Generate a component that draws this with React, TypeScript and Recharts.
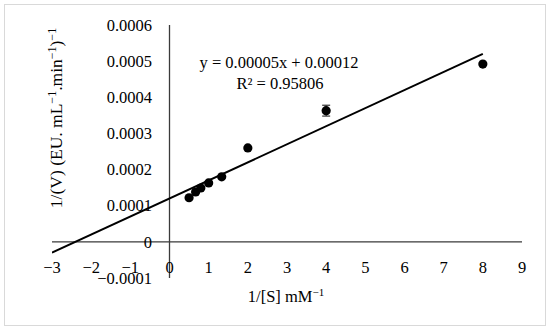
import React from 'react';
import { ComposedChart, XAxis, YAxis, Scatter, ReferenceLine, ErrorBar, Customized } from 'recharts';

const invS = [0.5, 0.667, 0.8, 1, 1.333, 2, 4, 8];
const invV = [0.000122, 0.000138, 0.000149, 0.000163, 0.00018, 0.00026, 0.000363, 0.000492];
const errV = [0, 0, 0, 0, 0, 0, 0.000015, 0];
const xTicks = [-3, -2, -1, 0, 1, 2, 3, 4, 5, 6, 7, 8, 9];
const yTicks = [-0.0001, 0, 0.0001, 0.0002, 0.0003, 0.0004, 0.0005, 0.0006];
const slope = 0.00005;
const intercept = 0.00012;
const trendX = [-3, 8];

const points = invS.map((x, i) => ({ x, y: invV[i], err: errV[i] }));
const trend = trendX.map((x) => ({ x, y: slope * x + intercept }));

const FONT = '"Liberation Serif", "DejaVu Serif", serif';
const FS = 16.5;

const fmtNum = (v: number, digits: number) => {
  if (v === 0) return '0';
  const s = Math.abs(v).toFixed(digits);
  return (v < 0 ? '\u2212' : '') + s;
};

const XTick = (props: any) => {
  const { x, y, payload } = props;
  return (
    <text x={x} y={y - 11} dy="0.35em" textAnchor="middle" fontFamily={FONT} fontSize={FS} fill="#000">
      {fmtNum(payload.value, 0)}
    </text>
  );
};

const YTick = (props: any) => {
  const { x, y, payload } = props;
  return (
    <text x={x + 100} y={y} dy="0.35em" textAnchor="end" fontFamily={FONT} fontSize={FS} fill="#000">
      {fmtNum(payload.value, 4)}
    </text>
  );
};

const Overlay = () => (
  <g fontFamily={FONT} fill="#000">
    <text x={279} y={62} dy="0.35em" textAnchor="middle" fontSize={FS}>y = 0.00005x + 0.00012</text>
    <text x={280} y={83} dy="0.35em" textAnchor="middle" fontSize={FS}>R² = 0.95806</text>
    <text x={286} y={296} dy="0.35em" textAnchor="middle" fontSize={FS}>
      1/[S] mM<tspan dy={-6} fontSize={11}>−1</tspan>
    </text>
    <g transform="translate(56,118) rotate(-90)">
      <text x={0} y={0} dy="0.35em" textAnchor="middle" fontSize={17.5}>
        1/(V) (EU. mL<tspan dy={-6} fontSize={12}>−1</tspan>
        <tspan dy={6}>.min</tspan>
        <tspan dy={-6} fontSize={12}>−1</tspan>
        <tspan dy={6}>)</tspan>
        <tspan dy={-6} fontSize={12}>−1</tspan>
      </text>
    </g>
  </g>
);

const Dot = (props: any) => {
  const { cx, cy } = props;
  return <circle cx={cx} cy={cy} r={4.6} fill="#000" />;
};

export default function App() {
  return (
    <div style={{ position: 'absolute', left: 0, top: 0, width: 550, height: 330, background: '#fff' }}>
      <div
        style={{
          position: 'absolute',
          left: 4,
          top: 4,
          width: 540,
          height: 320,
          border: '1px solid #d9d9d9',
        }}
      />
      <div style={{ position: 'absolute', left: 0, top: 0 }}>
        <ComposedChart width={550} height={330} margin={{ top: 25, right: 28, bottom: 51, left: 51 }}>
          <XAxis
            type="number"
            dataKey="x"
            domain={[-3, 9]}
            ticks={xTicks}
            allowDataOverflow
            axisLine={false}
            tickLine={false}
            tickSize={0}
            tickMargin={0}
            height={1}
            tick={<XTick />}
            interval={0}
          />
          <YAxis
            type="number"
            dataKey="y"
            domain={[-0.0001, 0.0006]}
            ticks={yTicks}
            allowDataOverflow
            axisLine={false}
            tickLine={false}
            tickSize={0}
            tickMargin={0}
            width={1}
            tick={<YTick />}
            interval={0}
          />
          <ReferenceLine x={0} stroke="#3a3a3a" strokeWidth={1.3} />
          <ReferenceLine y={0} stroke="#3a3a3a" strokeWidth={1.3} />
          <Scatter
            data={trend}
            line={{ stroke: '#000', strokeWidth: 2 }}
            shape={() => <g />}
            isAnimationActive={false}
            legendType="none"
          />
          <Scatter data={points} fill="#000" shape={<Dot />} isAnimationActive={false}>
            <ErrorBar dataKey="err" direction="y" width={4} stroke="#333" strokeWidth={1.2} />
          </Scatter>
          <Customized component={Overlay} />
        </ComposedChart>
      </div>
    </div>
  );
}
